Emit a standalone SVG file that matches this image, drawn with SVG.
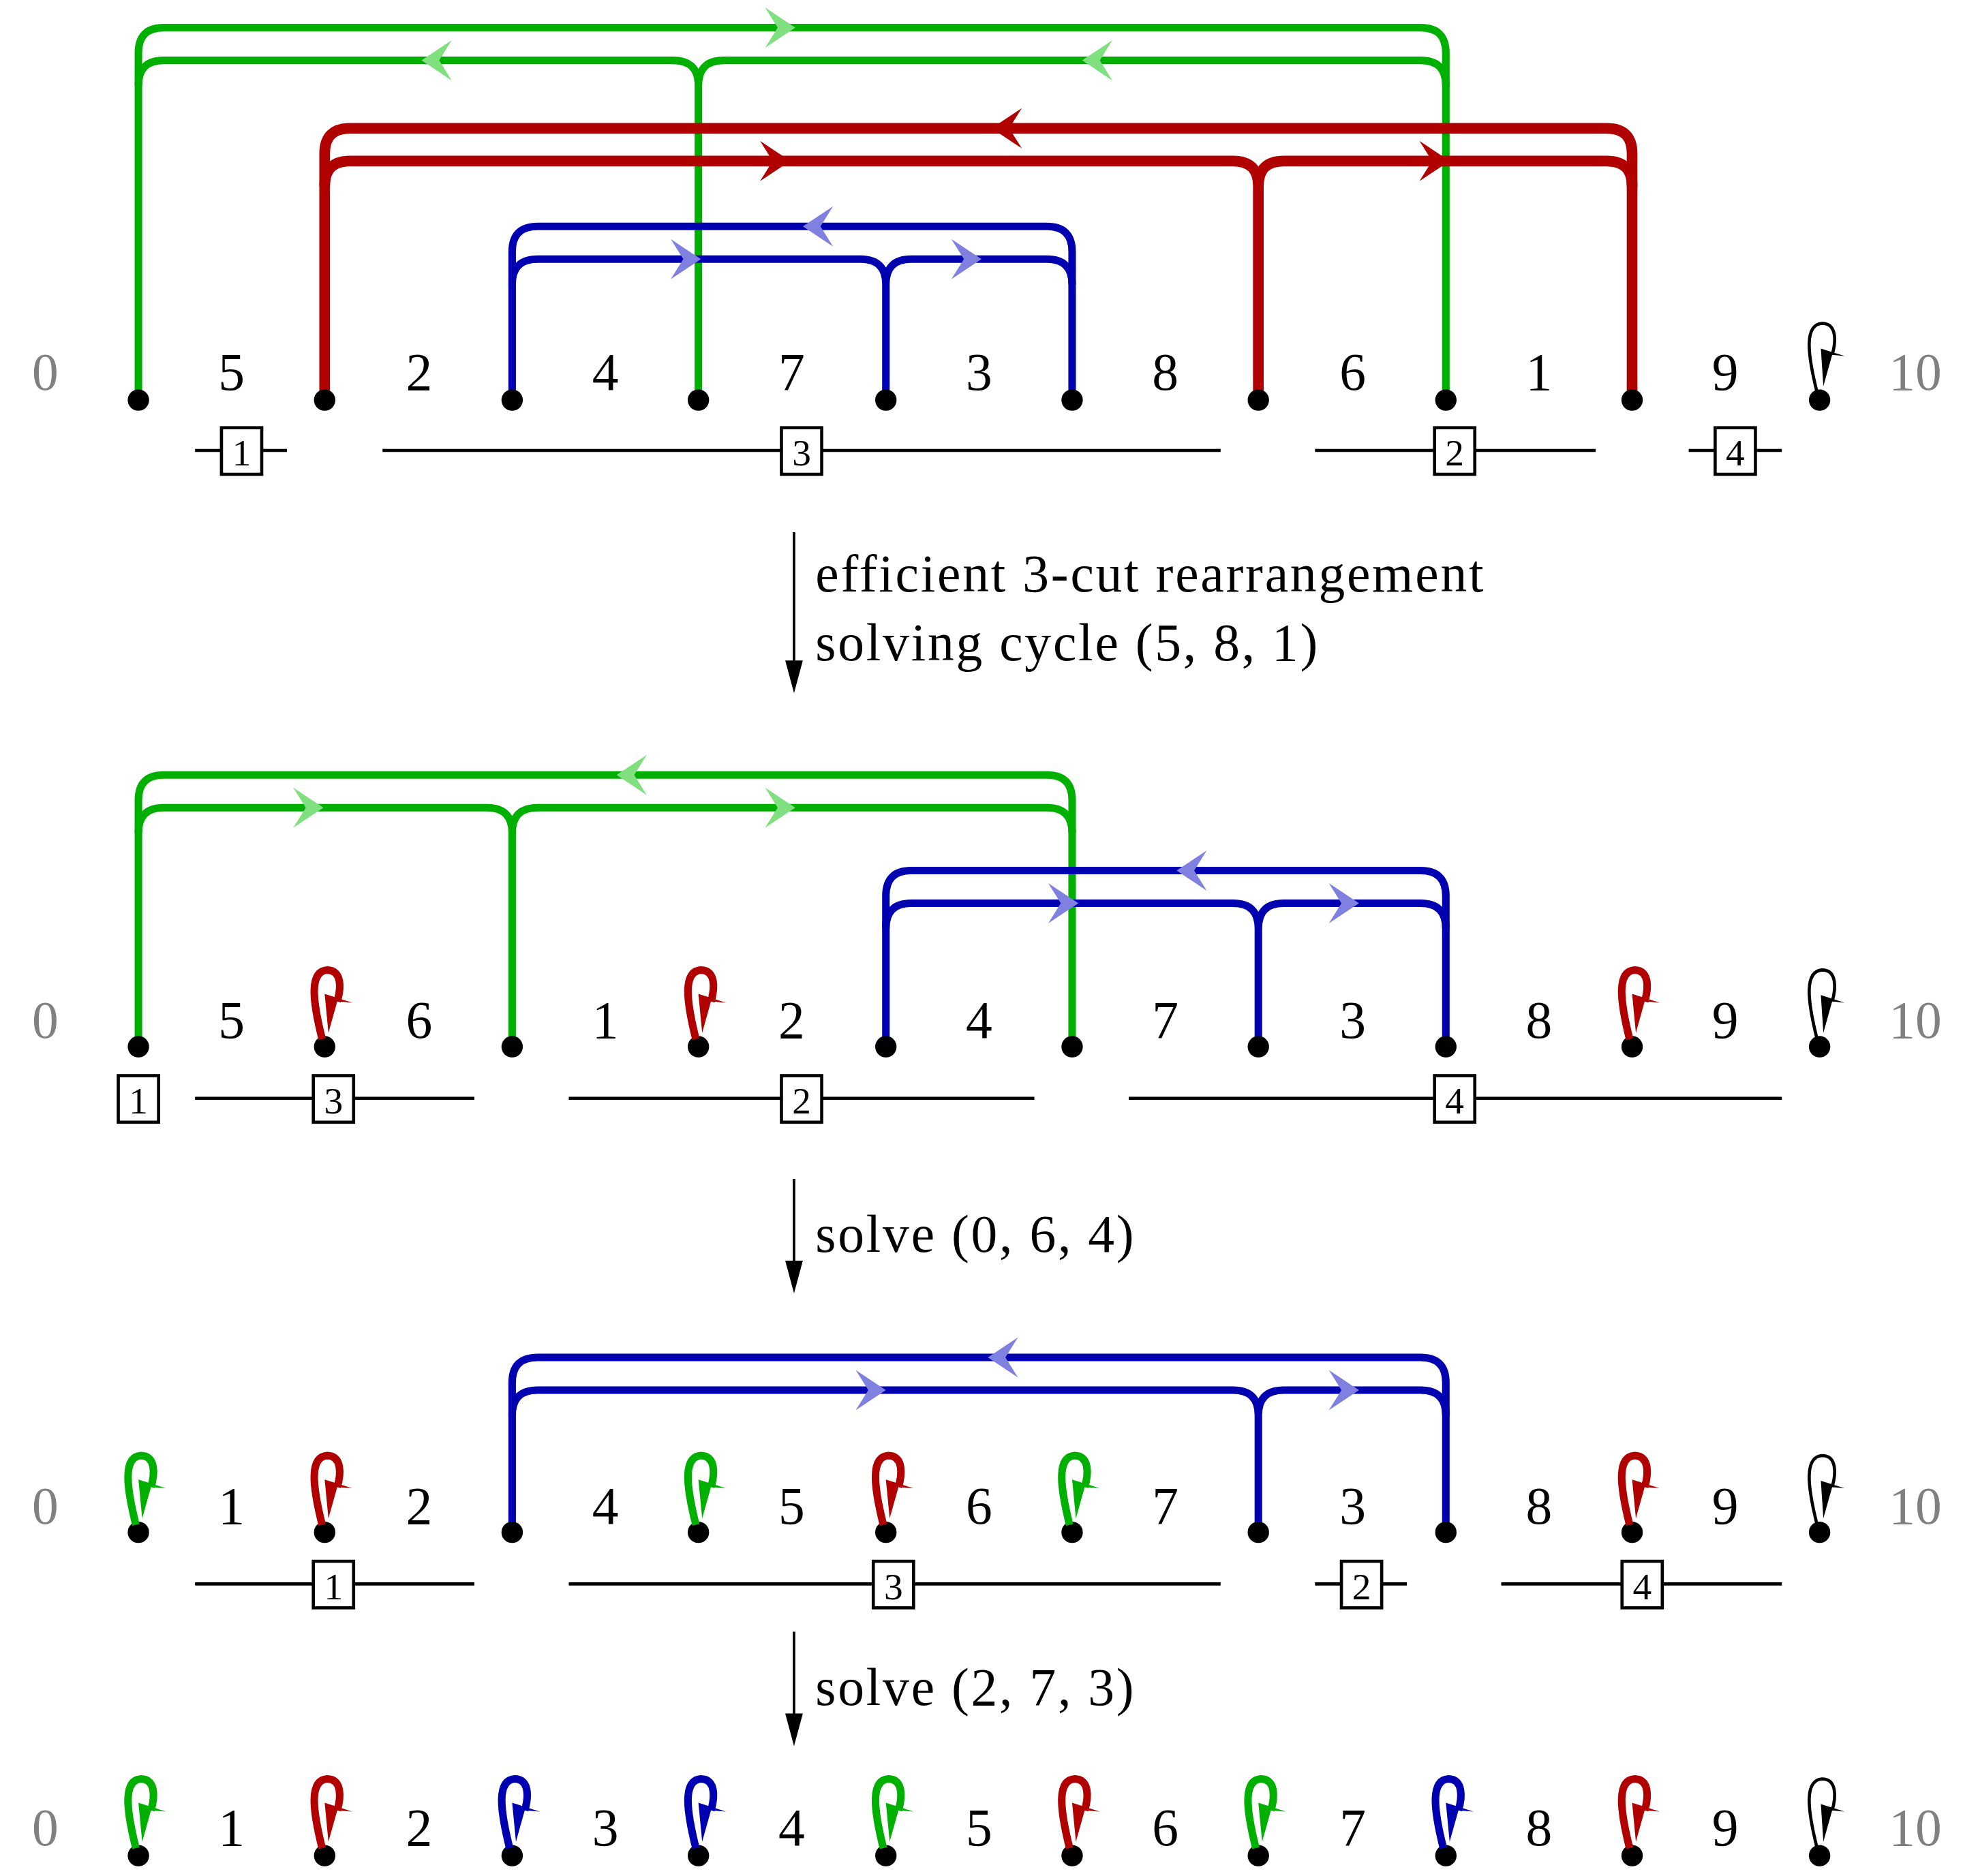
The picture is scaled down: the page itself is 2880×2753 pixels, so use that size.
<svg xmlns="http://www.w3.org/2000/svg" xmlns:xlink="http://www.w3.org/1999/xlink" width="2880" height="2753" viewBox="0 0 2880 2753">
<style>
.n{font-family:"Liberation Serif","DejaVu Serif",serif;font-size:42px;text-anchor:middle}
.g{fill:#808080}
.t{font-family:"Liberation Serif","DejaVu Serif",serif;font-size:42px;letter-spacing:1.5px}
.b{font-family:"Liberation Serif","DejaVu Serif",serif;font-size:30px;text-anchor:middle}
.gr{fill:none;stroke:#00b000;stroke-width:6}
.rd{fill:none;stroke:#b00000;stroke-width:8.5}
.bl{fill:none;stroke:#0000b0;stroke-width:6}
.bar{stroke:#000;stroke-width:2.5}
.box{fill:#fff;stroke:#000;stroke-width:2.5}
</style>
<defs>
<path id="aR" d="M0,0 L-24,-16 L-14,0 L-24,16 Z"/>
<path id="aL" d="M0,0 L24,-16 L14,0 L24,16 Z"/>
<g id="loop"><path d="M-2,-6 C-10,-38 -12,-60 2,-61 C14,-61 13,-46 10,-36" fill="none" stroke="currentColor" stroke-width="2.5"/><path d="M3,-11 L1,-41 L20,-35 L10,-36 Z" fill="currentColor"/></g>
<g id="loopT"><path d="M-2,-6 C-10,-38 -12,-60 2,-61 C14,-61 13,-46 10,-36" fill="none" stroke="currentColor" stroke-width="6"/><path d="M3,-11 L0,-42 L22,-35 L10,-36 Z" fill="currentColor"/></g>
<circle id="dot" r="8.5" fill="#000"/>
</defs>
<rect width="2880" height="2753" fill="#fff"/>
<g transform="scale(1.8462)">
<g id="connectors">
<path class="gr" d="M110,318 V42 Q110,22 130,22 H1129 Q1149,22 1149,42 V318"/>
<path class="gr" d="M110,68 Q110,48 130,48 H535 Q555,48 555,68 V318 M555,68 Q555,48 575,48 H1129 Q1149,48 1149,68"/>
<use href="#aR" x="632" y="22" fill="#80e080"/>
<use href="#aL" x="335" y="48" fill="#80e080"/>
<use href="#aL" x="860" y="48" fill="#80e080"/>
<path class="rd" d="M258,318 V122 Q258,102 278,102 H1277 Q1297,102 1297,122 V318"/>
<path class="rd" d="M258,148 Q258,128 278,128 H980 Q1000,128 1000,148 V318 M1000,148 Q1000,128 1020,128 H1277 Q1297,128 1297,148"/>
<use href="#aL" x="788" y="102" fill="#b00000"/>
<use href="#aR" x="628" y="128" fill="#b00000"/>
<use href="#aR" x="1152" y="128" fill="#b00000"/>
<path class="bl" d="M407,318 V200 Q407,180 427,180 H832 Q852,180 852,200 V318"/>
<path class="bl" d="M407,226 Q407,206 427,206 H684 Q704,206 704,226 V318 M704,226 Q704,206 724,206 H832 Q852,206 852,226"/>
<use href="#aL" x="638" y="180" fill="#8080e0"/>
<use href="#aR" x="557" y="206" fill="#8080e0"/>
<use href="#aR" x="780" y="206" fill="#8080e0"/>
<path class="gr" d="M110,832 V636 Q110,616 130,616 H832 Q852,616 852,636 V832"/>
<path class="gr" d="M110,662 Q110,642 130,642 H387 Q407,642 407,662 V832 M407,662 Q407,642 427,642 H832 Q852,642 852,662"/>
<use href="#aL" x="490" y="616" fill="#80e080"/>
<use href="#aR" x="257" y="642" fill="#80e080"/>
<use href="#aR" x="632" y="642" fill="#80e080"/>
<path class="bl" d="M704,832 V712 Q704,692 724,692 H1129 Q1149,692 1149,712 V832"/>
<path class="bl" d="M704,738 Q704,718 724,718 H980 Q1000,718 1000,738 V832 M1000,738 Q1000,718 1020,718 H1129 Q1149,718 1149,738"/>
<use href="#aL" x="935" y="692" fill="#8080e0"/>
<use href="#aR" x="857" y="718" fill="#8080e0"/>
<use href="#aR" x="1080" y="718" fill="#8080e0"/>
<path class="bl" d="M407,1218 V1099 Q407,1079 427,1079 H1129 Q1149,1079 1149,1099 V1218"/>
<path class="bl" d="M407,1125 Q407,1105 427,1105 H980 Q1000,1105 1000,1125 V1218 M1000,1125 Q1000,1105 1020,1105 H1129 Q1149,1105 1149,1125"/>
<use href="#aL" x="785" y="1079" fill="#8080e0"/>
<use href="#aR" x="704" y="1105" fill="#8080e0"/>
<use href="#aR" x="1080" y="1105" fill="#8080e0"/>
<path d="M631,423 V530 M631,937 V1008 M631,1297 V1368" stroke="#000" stroke-width="2" fill="none"/>
<path d="M631,551 L624,525 L638,525 Z M631,1028 L624,1002 L638,1002 Z M631,1388 L624,1362 L638,1362 Z"/>
</g>
<text class="t" x="648" y="470">efficient 3-cut rearrangement</text>
<text class="t" x="648" y="525">solving cycle (5, 8, 1)</text>
<text class="t" x="648" y="995">solve (0, 6, 4)</text>
<text class="t" x="648" y="1355">solve (2, 7, 3)</text>

<g id="row1">
<text class="n g" x="36" y="310">0</text><text class="n" x="184" y="310">5</text><text class="n" x="333" y="310">2</text><text class="n" x="481" y="310">4</text><text class="n" x="629" y="310">7</text><text class="n" x="778" y="310">3</text><text class="n" x="926" y="310">8</text><text class="n" x="1075" y="310">6</text><text class="n" x="1223" y="310">1</text><text class="n" x="1371" y="310">9</text><text class="n g" x="1522" y="310">10</text>
<use href="#dot" x="110" y="318"/><use href="#dot" x="258" y="318"/><use href="#dot" x="407" y="318"/><use href="#dot" x="555" y="318"/><use href="#dot" x="704" y="318"/><use href="#dot" x="852" y="318"/><use href="#dot" x="1000" y="318"/><use href="#dot" x="1149" y="318"/><use href="#dot" x="1297" y="318"/><use href="#dot" x="1446" y="318"/>
<use href="#loop" x="1446" y="318" color="#000"/>
<path class="bar" d="M155,358 H228 M304,358 H970 M1045,358 H1268 M1342,358 H1416"/>
<rect class="box" x="176" y="340" width="32" height="37"/><text class="b" x="192" y="370">1</text>
<rect class="box" x="621" y="340" width="32" height="37"/><text class="b" x="637" y="370">3</text>
<rect class="box" x="1140" y="340" width="32" height="37"/><text class="b" x="1156" y="370">2</text>
<rect class="box" x="1363" y="340" width="32" height="37"/><text class="b" x="1379" y="370">4</text>
</g>

<g id="row2">
<text class="n g" x="36" y="825">0</text><text class="n" x="184" y="825">5</text><text class="n" x="333" y="825">6</text><text class="n" x="481" y="825">1</text><text class="n" x="629" y="825">2</text><text class="n" x="778" y="825">4</text><text class="n" x="926" y="825">7</text><text class="n" x="1075" y="825">3</text><text class="n" x="1223" y="825">8</text><text class="n" x="1371" y="825">9</text><text class="n g" x="1522" y="825">10</text>
<use href="#dot" x="110" y="832"/><use href="#dot" x="258" y="832"/><use href="#dot" x="407" y="832"/><use href="#dot" x="555" y="832"/><use href="#dot" x="704" y="832"/><use href="#dot" x="852" y="832"/><use href="#dot" x="1000" y="832"/><use href="#dot" x="1149" y="832"/><use href="#dot" x="1297" y="832"/><use href="#dot" x="1446" y="832"/>
<use href="#loopT" x="258" y="832" color="#b00000"/><use href="#loopT" x="555" y="832" color="#b00000"/><use href="#loopT" x="1297" y="832" color="#b00000"/><use href="#loop" x="1446" y="832" color="#000"/>
<path class="bar" d="M155,873 H377 M452,873 H822 M897,873 H1416"/>
<rect class="box" x="94" y="855" width="32" height="37"/><text class="b" x="110" y="885">1</text>
<rect class="box" x="249" y="855" width="32" height="37"/><text class="b" x="265" y="885">3</text>
<rect class="box" x="621" y="855" width="32" height="37"/><text class="b" x="637" y="885">2</text>
<rect class="box" x="1140" y="855" width="32" height="37"/><text class="b" x="1156" y="885">4</text>
</g>

<g id="row3">
<text class="n g" x="36" y="1211">0</text><text class="n" x="184" y="1211">1</text><text class="n" x="333" y="1211">2</text><text class="n" x="481" y="1211">4</text><text class="n" x="629" y="1211">5</text><text class="n" x="778" y="1211">6</text><text class="n" x="926" y="1211">7</text><text class="n" x="1075" y="1211">3</text><text class="n" x="1223" y="1211">8</text><text class="n" x="1371" y="1211">9</text><text class="n g" x="1522" y="1211">10</text>
<use href="#dot" x="110" y="1218"/><use href="#dot" x="258" y="1218"/><use href="#dot" x="407" y="1218"/><use href="#dot" x="555" y="1218"/><use href="#dot" x="704" y="1218"/><use href="#dot" x="852" y="1218"/><use href="#dot" x="1000" y="1218"/><use href="#dot" x="1149" y="1218"/><use href="#dot" x="1297" y="1218"/><use href="#dot" x="1446" y="1218"/>
<use href="#loopT" x="110" y="1218" color="#00b000"/><use href="#loopT" x="258" y="1218" color="#b00000"/><use href="#loopT" x="555" y="1218" color="#00b000"/><use href="#loopT" x="704" y="1218" color="#b00000"/><use href="#loopT" x="852" y="1218" color="#00b000"/><use href="#loopT" x="1297" y="1218" color="#b00000"/><use href="#loop" x="1446" y="1218" color="#000"/>
<path class="bar" d="M155,1259 H377 M452,1259 H970 M1045,1259 H1118 M1193,1259 H1416"/>
<rect class="box" x="249" y="1241" width="32" height="37"/><text class="b" x="265" y="1271">1</text>
<rect class="box" x="694" y="1241" width="32" height="37"/><text class="b" x="710" y="1271">3</text>
<rect class="box" x="1066" y="1241" width="32" height="37"/><text class="b" x="1082" y="1271">2</text>
<rect class="box" x="1289" y="1241" width="32" height="37"/><text class="b" x="1305" y="1271">4</text>
</g>

<g id="row4">
<text class="n g" x="36" y="1467">0</text><text class="n" x="184" y="1467">1</text><text class="n" x="333" y="1467">2</text><text class="n" x="481" y="1467">3</text><text class="n" x="629" y="1467">4</text><text class="n" x="778" y="1467">5</text><text class="n" x="926" y="1467">6</text><text class="n" x="1075" y="1467">7</text><text class="n" x="1223" y="1467">8</text><text class="n" x="1371" y="1467">9</text><text class="n g" x="1522" y="1467">10</text>
<use href="#dot" x="110" y="1475"/><use href="#dot" x="258" y="1475"/><use href="#dot" x="407" y="1475"/><use href="#dot" x="555" y="1475"/><use href="#dot" x="704" y="1475"/><use href="#dot" x="852" y="1475"/><use href="#dot" x="1000" y="1475"/><use href="#dot" x="1149" y="1475"/><use href="#dot" x="1297" y="1475"/><use href="#dot" x="1446" y="1475"/>
<use href="#loopT" x="110" y="1475" color="#00b000"/><use href="#loopT" x="258" y="1475" color="#b00000"/><use href="#loopT" x="407" y="1475" color="#0000b0"/><use href="#loopT" x="555" y="1475" color="#0000b0"/><use href="#loopT" x="704" y="1475" color="#00b000"/><use href="#loopT" x="852" y="1475" color="#b00000"/><use href="#loopT" x="1000" y="1475" color="#00b000"/><use href="#loopT" x="1149" y="1475" color="#0000b0"/><use href="#loopT" x="1297" y="1475" color="#b00000"/><use href="#loop" x="1446" y="1475" color="#000"/>
</g>
</g>
</svg>
